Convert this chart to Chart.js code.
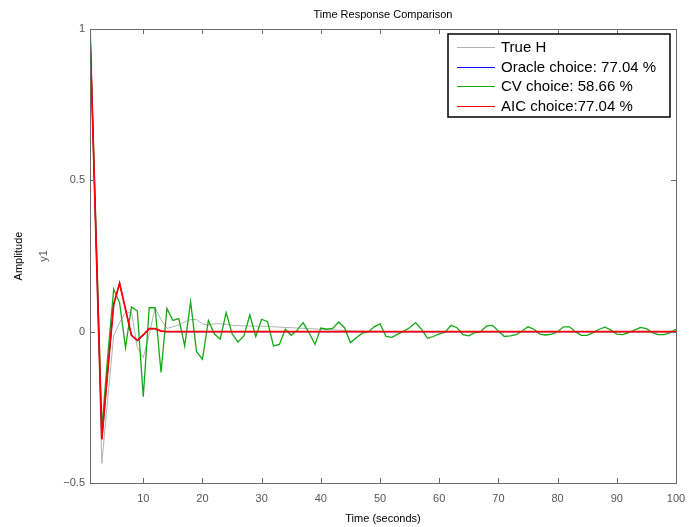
<!DOCTYPE html>
<html>
<head>
<meta charset="utf-8">
<title>Time Response Comparison</title>
<script src="https://cdn.jsdelivr.net/npm/chart.js@4.4.1/dist/chart.umd.min.js"></script>
<style>
  html, body { margin: 0; padding: 0; background: #fff; }
  #wrap { width: 697px; height: 527px; }
</style>
</head>
<body>
<div id="wrap"><canvas id="chart" width="697" height="527"></canvas></div>
<script>
// ---- Datos -------------------------------------------------------------

// muestreo: 1..100 s
const timeSec = Array.from({ length: 100 }, (_, i) => i + 1);

const trueH = [
  1.0, 0.28, -0.435, -0.22, -0.014, 0.03, 0.063, 0.065, -0.053, -0.086,
  -0.009, 0.079, 0.04, 0.011, 0.016, 0.022, 0.032, 0.04, 0.04, 0.026,
  0.022, 0.026, 0.026, 0.024, 0.021, 0.02, 0.019, 0.019, 0.018, 0.018,
  0.017, 0.016, 0.015, 0.014, 0.013, 0.012, 0.011, 0.01, 0.009, 0.008,
  0.007, 0.006, 0.005, 0.004, 0.003, 0.002, 0.002, 0.001, 0.001, 0.001,
  0, 0, 0, 0, 0, 0, 0, 0, 0, 0,
  0, 0, 0, 0, 0, 0, 0, 0, 0, 0,
  0, 0, 0, 0, 0, 0, 0, 0, 0, 0,
  0, 0, 0, 0, 0, 0, 0, 0, 0, 0,
  0, 0, 0, 0, 0, 0, 0, 0, 0, 0
];

const aicChoice = [
  1.0, 0.32, -0.355, -0.13, 0.09, 0.16, 0.074, -0.012, -0.029, -0.011,
  0.01, 0.01, 0.002, 0, 0, 0, 0, 0, 0, 0,
  0, 0, 0, 0, 0, 0, 0, 0, 0, 0,
  0, 0, 0, 0, 0, 0, 0, 0, 0, 0,
  0, 0, 0, 0, 0, 0, 0, 0, 0, 0,
  0, 0, 0, 0, 0, 0, 0, 0, 0, 0,
  0, 0, 0, 0, 0, 0, 0, 0, 0, 0,
  0, 0, 0, 0, 0, 0, 0, 0, 0, 0,
  0, 0, 0, 0, 0, 0, 0, 0, 0, 0,
  0, 0, 0, 0, 0, 0, 0, 0, 0, 0
];

// mismo modelo que AIC (77.04 %)
const oracleChoice = aicChoice.slice();

const cvChoice = [
  1.0, 0.35, -0.32, -0.08, 0.14, 0.096, -0.053, 0.082, 0.068, -0.215,
  0.079, 0.079, -0.135, 0.077, 0.037, 0.043, -0.047, 0.099, -0.066, -0.091,
  0.037, -0.007, -0.025, 0.063, -0.007, -0.034, -0.014, 0.055, -0.016, 0.041,
  0.033, -0.047, -0.042, 0.008, -0.012, 0.005, 0.03, -0.003, -0.042, 0.012,
  0.008, 0.011, 0.032, 0.013, -0.036, -0.02, -0.005, -0.001, 0.016, 0.026,
  -0.016, -0.019, -0.008, 0.002, 0.013, 0.03, 0.008, -0.022, -0.016, -0.007,
  -0.002, 0.021, 0.013, -0.01, -0.014, -0.003, 0, 0.019, 0.021, 0.002,
  -0.016, -0.014, -0.01, 0.002, 0.016, 0.008, -0.008, -0.011, -0.008, 0,
  0.016, 0.016, 0, -0.012, -0.012, -0.003, 0.008, 0.015, 0.005, -0.008,
  -0.01, -0.003, 0.005, 0.014, 0.01, -0.003, -0.01, -0.01, -0.003, 0.008
];

const seriesLabels = ['True H', 'Oracle choice: 77.04 %', 'CV choice: 58.66 %', 'AIC choice:77.04 %'];
const seriesColors = ['#b2b2b2', '#0000ff', '#14a814', '#ff0000'];
const xTickValues = [10, 20, 30, 40, 50, 60, 70, 80, 90, 100];
const yTickValues = [-0.5, 0, 0.5, 1];

const FONT = '"Liberation Sans", Arial, Helvetica, sans-serif';
const AXIS_COLOR = '#6a6a6a';

const toPoints = values => values.map((v, i) => ({ x: timeSec[i], y: v }));

// ---- Marco, marcas interiores, títulos y leyenda -------------------------
const matlabFrame = {
    id: 'matlabFrame',
    afterDraw(chart) {
        const { ctx, chartArea: a, scales: { x, y } } = chart;
        ctx.save();
        ctx.strokeStyle = AXIS_COLOR;
        ctx.lineWidth = 1;
        ctx.strokeRect(a.left + 0.5, a.top + 0.5, a.right - a.left, a.bottom - a.top);

        ctx.beginPath();
        xTickValues.forEach(v => {
            const px = Math.round(x.getPixelForValue(v)) + 0.5;
            ctx.moveTo(px, a.bottom); ctx.lineTo(px, a.bottom - 5);
            ctx.moveTo(px, a.top);    ctx.lineTo(px, a.top + 5);
        });
        yTickValues.forEach(v => {
            const py = Math.round(y.getPixelForValue(v)) + 0.5;
            ctx.moveTo(a.left, py);  ctx.lineTo(a.left + 5, py);
            ctx.moveTo(a.right, py); ctx.lineTo(a.right - 5, py);
        });
        ctx.stroke();

        // título
        const cx = (a.left + a.right) / 2;
        ctx.fillStyle = '#000';
        ctx.font = '11px ' + FONT;
        ctx.textAlign = 'center';
        ctx.textBaseline = 'middle';
        ctx.fillText('Time Response Comparison', cx, 15);
        ctx.fillText('Time (seconds)', cx, 519);

        // etiquetas del eje y
        const cy = (a.top + a.bottom) / 2;
        ctx.save();
        ctx.translate(19, cy);
        ctx.rotate(-Math.PI / 2);
        ctx.fillText('Amplitude', 0, 0);
        ctx.restore();
        ctx.save();
        ctx.translate(44, cy);
        ctx.rotate(-Math.PI / 2);
        ctx.fillStyle = '#555';
        ctx.fillText('y1', 0, 0);
        ctx.restore();

        // leyenda
        const bx = 448, by = 34, bw = 222, bh = 83;
        ctx.fillStyle = '#fff';
        ctx.fillRect(bx, by, bw, bh);
        ctx.strokeStyle = '#000';
        ctx.lineWidth = 1.5;
        ctx.strokeRect(bx, by, bw, bh);
        ctx.font = '15px ' + FONT;
        ctx.textAlign = 'left';
        seriesLabels.forEach((label, i) => {
            const ry = Math.round(by + 13 + i * 19.5) + 0.5;
            ctx.strokeStyle = seriesColors[i];
            ctx.lineWidth = 1;
            ctx.beginPath();
            ctx.moveTo(457, ry); ctx.lineTo(495, ry);
            ctx.stroke();
            ctx.fillStyle = '#000';
            ctx.fillText(label, 501, ry + 0.5);
        });
        ctx.restore();
    }
};

new Chart(document.getElementById('chart').getContext('2d'), {
    type: 'line',
    data: {
        datasets: [
            { label: seriesLabels[0], data: toPoints(trueH),        borderColor: seriesColors[0], borderWidth: 1,   order: 4 },
            { label: seriesLabels[1], data: toPoints(oracleChoice), borderColor: seriesColors[1], borderWidth: 1.1, order: 2 },
            { label: seriesLabels[2], data: toPoints(cvChoice),     borderColor: seriesColors[2], borderWidth: 1.3, order: 3 },
            { label: seriesLabels[3], data: toPoints(aicChoice),    borderColor: seriesColors[3], borderWidth: 1.7, order: 1 }
        ]
    },
    options: {
        responsive: false,
        animation: false,
        elements: { point: { radius: 0 }, line: { tension: 0, borderJoinStyle: 'miter' } },
        layout: { padding: { top: 29, right: 21, left: 0, bottom: 0 } },
        plugins: { legend: { display: false }, tooltip: { enabled: false }, title: { display: false } },
        scales: {
            x: {
                type: 'linear',
                min: 1,
                max: 100,
                afterBuildTicks: s => { s.ticks = xTickValues.map(v => ({ value: v })); },
                afterFit: s => { s.height = 44; },
                grid: { display: false, drawTicks: false },
                border: { display: false },
                ticks: { color: '#555', padding: 9, maxRotation: 0, font: { family: FONT, size: 11 } }
            },
            y: {
                min: -0.5,
                max: 1,
                afterBuildTicks: s => { s.ticks = yTickValues.map(v => ({ value: v })); },
                afterFit: s => { s.width = 90; },
                grid: { display: false, drawTicks: false },
                border: { display: false },
                ticks: {
                    color: '#555',
                    padding: 5,
                    font: { family: FONT, size: 11 },
                    callback: v => (v < 0 ? '\u2212' + Math.abs(v) : String(v))
                }
            }
        }
    },
    plugins: [matlabFrame]
});
</script>
</body>
</html>
